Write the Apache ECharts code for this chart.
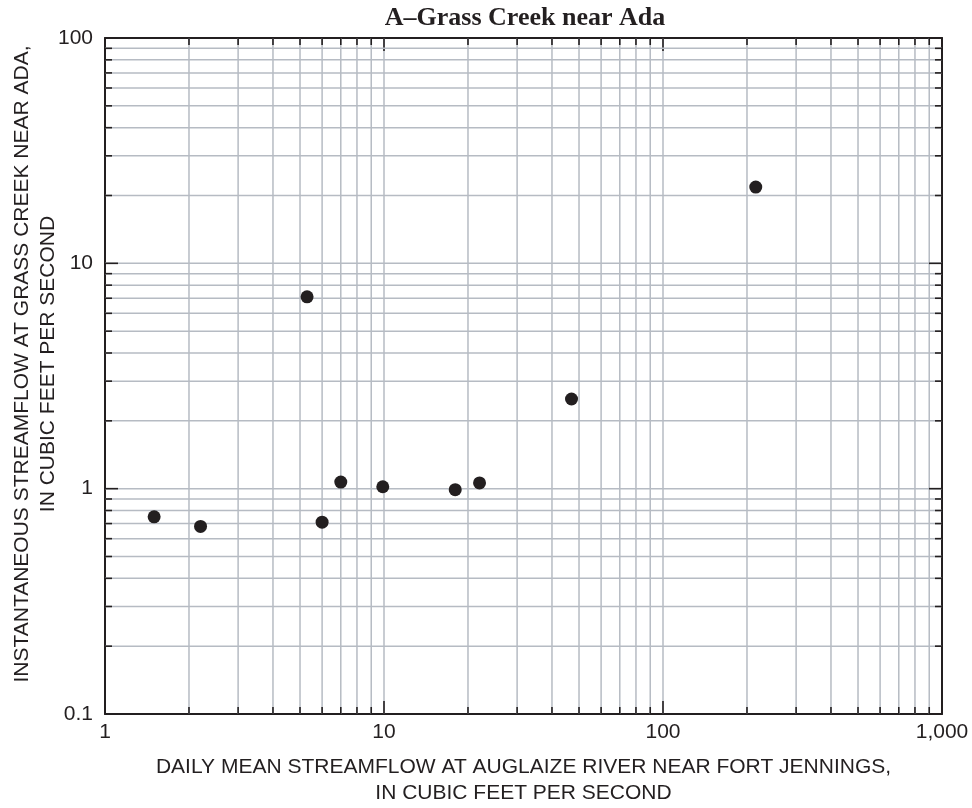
<!DOCTYPE html>
<html>
<head>
<meta charset="utf-8">
<title>A–Grass Creek near Ada</title>
<script src="https://cdn.jsdelivr.net/npm/echarts@6/dist/echarts.min.js"></script>
<style>
  html, body { margin: 0; padding: 0; background: #ffffff; }
  #chart { width: 972px; height: 808px; }
</style>
</head>
<body>
<div id="chart"></div>
<script>
// Daily mean flow at the Auglaize River (x) vs. instantaneous flow at Grass Creek (y), cfs
const auglaizeFlow = [1.5, 2.2, 5.3, 6.0, 7.0, 9.9, 18, 22, 47, 215];
const grassCreekFlow = [0.75, 0.68, 7.1, 0.71, 1.07, 1.02, 0.99, 1.06, 2.5, 21.8];

// Axis ranges and tick positions (log scales)
const xRange = [1, 1000];
const yRange = [0.1, 100];
const xTicks = [1, 2, 3, 4, 5, 6, 7, 8, 9,
                10, 20, 30, 40, 50, 60, 70, 80, 90,
                100, 200, 300, 400, 500, 600, 700, 800, 900, 1000];
const yTicks = [0.1, 0.2, 0.3, 0.4, 0.5, 0.6, 0.7, 0.8, 0.9,
                1, 2, 3, 4, 5, 6, 7, 8, 9,
                10, 20, 30, 40, 50, 60, 70, 80, 90, 100];
const xTickLabels = ['1', '10', '100', '1,000'];
const yTickLabels = ['0.1', '1', '10', '100'];
const xDecades = [1, 10, 100, 1000];
const yDecades = [0.1, 1, 10, 100];

const INK = '#231f20';
const GRID = '#b6bbc3';
const SANS = '"Liberation Sans", Arial, Helvetica, sans-serif';
const MAJOR_TICK = 13;
const MINOR_TICK = 7;

function isDecade(v) {
  const l = Math.log10(v);
  return Math.abs(l - Math.round(l)) < 1e-9;
}

function decadeLabel(v, decades, labels) {
  for (let i = 0; i < decades.length; i++) {
    if (Math.abs(Math.log10(v) - Math.log10(decades[i])) < 1e-6) return labels[i];
  }
  return '';
}

// Vertical gridlines with inward ticks on the bottom and top frame
function renderVertical(params, api) {
  const v = api.value(0);
  const bot = api.coord([v, yRange[0]]);
  const top = api.coord([v, yRange[1]]);
  const len = isDecade(v) ? MAJOR_TICK : MINOR_TICK;
  const children = [];
  if (v > xRange[0] && v < xRange[1]) {
    children.push({
      type: 'line',
      shape: { x1: top[0], y1: top[1], x2: bot[0], y2: bot[1] },
      style: { stroke: GRID, lineWidth: 1.5 }
    });
  }
  children.push({
    type: 'line',
    shape: { x1: bot[0], y1: bot[1], x2: bot[0], y2: bot[1] - len },
    style: { stroke: INK, lineWidth: 1.6 }
  });
  children.push({
    type: 'line',
    shape: { x1: top[0], y1: top[1], x2: top[0], y2: top[1] + len },
    style: { stroke: INK, lineWidth: 1.6 }
  });
  return { type: 'group', children: children };
}

// Horizontal gridlines with inward ticks on the left and right frame
function renderHorizontal(params, api) {
  const v = api.value(1);
  const left = api.coord([xRange[0], v]);
  const right = api.coord([xRange[1], v]);
  const len = isDecade(v) ? MAJOR_TICK : MINOR_TICK;
  const children = [];
  if (v > yRange[0] && v < yRange[1]) {
    children.push({
      type: 'line',
      shape: { x1: left[0], y1: left[1], x2: right[0], y2: right[1] },
      style: { stroke: GRID, lineWidth: 1.5 }
    });
  }
  children.push({
    type: 'line',
    shape: { x1: left[0], y1: left[1], x2: left[0] + len, y2: left[1] },
    style: { stroke: INK, lineWidth: 1.6 }
  });
  children.push({
    type: 'line',
    shape: { x1: right[0], y1: right[1], x2: right[0] - len, y2: right[1] },
    style: { stroke: INK, lineWidth: 1.6 }
  });
  return { type: 'group', children: children };
}

const frameAxis = {
  type: 'log',
  logBase: 10,
  axisLine: { show: true, onZero: false, lineStyle: { color: INK, width: 2 } },
  axisTick: { show: false },
  splitLine: { show: false },
  minorTick: { show: false },
  minorSplitLine: { show: false }
};

const chart = echarts.init(document.getElementById('chart'), null, { renderer: 'canvas' });

chart.setOption({
  backgroundColor: '#ffffff',
  animation: false,
  textStyle: { fontFamily: SANS, color: INK },
  grid: {
    left: 105, right: 30, top: 38, bottom: 94,
    containLabel: false,
    outerBoundsMode: 'none'
  },
  graphic: [{
    type: 'text',
    x: 525,
    y: 18,
    style: {
      text: 'A–Grass Creek near Ada',
      fill: INK,
      font: 'bold 26px "Liberation Serif", "Times New Roman", serif',
      textAlign: 'center',
      textVerticalAlign: 'middle'
    }
  }],
  xAxis: [
    Object.assign({}, frameAxis, {
      position: 'bottom',
      min: xRange[0],
      max: xRange[1],
      axisLabel: {
        show: true,
        margin: 8,
        fontSize: 21,
        color: INK,
        fontFamily: SANS,
        formatter: function (v) { return decadeLabel(v, xDecades, xTickLabels); }
      },
      name: 'DAILY MEAN STREAMFLOW AT AUGLAIZE RIVER NEAR FORT JENNINGS,\nIN CUBIC FEET PER SECOND',
      nameLocation: 'middle',
      nameGap: 40,
      nameMoveOverlap: false,
      nameTextStyle: { fontSize: 21, lineHeight: 26, color: INK, fontFamily: SANS }
    }),
    Object.assign({}, frameAxis, {
      position: 'top',
      min: xRange[0],
      max: xRange[1],
      axisLabel: { show: false }
    })
  ],
  yAxis: [
    Object.assign({}, frameAxis, {
      position: 'left',
      min: yRange[0],
      max: yRange[1],
      axisLabel: {
        show: true,
        margin: 12,
        fontSize: 21,
        color: INK,
        fontFamily: SANS,
        formatter: function (v) { return decadeLabel(v, yDecades, yTickLabels); }
      },
      name: 'INSTANTANEOUS STREAMFLOW AT GRASS CREEK NEAR ADA,\nIN CUBIC FEET PER SECOND',
      nameLocation: 'middle',
      nameRotate: 90,
      nameGap: 44,
      nameMoveOverlap: false,
      nameTextStyle: { fontSize: 21, lineHeight: 26, color: INK, fontFamily: SANS, padding: [0, 0, 0, 24] }
    }),
    Object.assign({}, frameAxis, {
      position: 'right',
      min: yRange[0],
      max: yRange[1],
      axisLabel: { show: false }
    })
  ],
  series: [
    {
      type: 'custom',
      name: 'vertical grid',
      xAxisIndex: 0,
      yAxisIndex: 0,
      silent: true,
      z: 1,
      renderItem: renderVertical,
      data: xTicks.map(function (v) { return [v, 1]; })
    },
    {
      type: 'custom',
      name: 'horizontal grid',
      xAxisIndex: 0,
      yAxisIndex: 0,
      silent: true,
      z: 1,
      renderItem: renderHorizontal,
      data: yTicks.map(function (v) { return [1, v]; })
    },
    {
      type: 'scatter',
      name: 'Grass Creek near Ada',
      xAxisIndex: 0,
      yAxisIndex: 0,
      z: 5,
      symbol: 'circle',
      symbolSize: 13,
      itemStyle: { color: INK, opacity: 1 },
      data: auglaizeFlow.map(function (x, i) { return [x, grassCreekFlow[i]]; })
    }
  ]
});
</script>
</body>
</html>
